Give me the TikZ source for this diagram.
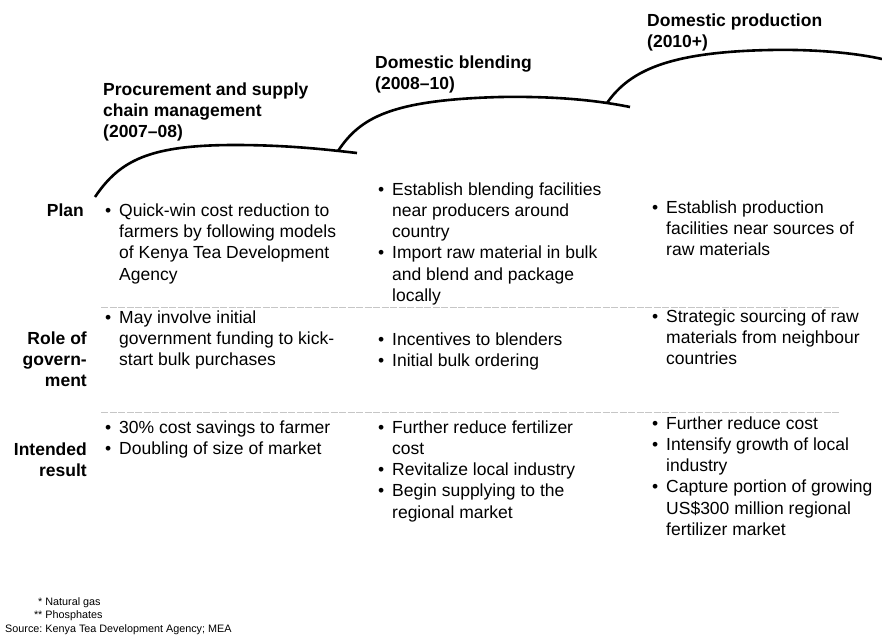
\documentclass[tikz,border=0pt]{standalone}
\usepackage{fontspec}
\setmainfont{Liberation Sans}
\newcommand{\bl}{\llap{\textbullet\hspace{8pt}}}

\begin{document}
\begin{tikzpicture}[
  txt/.style={anchor=base west, align=left, inner sep=0pt, font=\fontsize{17.5}{21.3}\selectfont},
  head/.style={txt, font=\bfseries\fontsize{17.5}{21}\selectfont},
  lab/.style={anchor=base east, align=right, inner sep=0pt, font=\bfseries\fontsize{17.5}{21}\selectfont},
  stage/.style={line width=2.6pt},
  rule/.style={gray!45, line width=1pt, dash pattern=on 7pt off 1.5pt}]
  \useasboundingbox (0pt, 0pt) rectangle (882pt, -637pt);
  % stage curves
  \draw[stage] (95pt, -197pt) .. controls (120pt, -160pt) and (150pt, -145pt) .. (235pt, -145pt)
    .. controls (290pt, -145pt) and (330pt, -150pt) .. (357pt, -153pt);
  \draw[stage] (338pt, -151pt) .. controls (360pt, -118pt) and (390pt, -100pt) .. (500pt, -97pt)
    .. controls (560pt, -96pt) and (600pt, -101pt) .. (630pt, -107pt);
  \draw[stage] (607pt, -103pt) .. controls (630pt, -70pt) and (670pt, -52pt) .. (770pt, -50pt)
    .. controls (820pt, -49pt) and (860pt, -54pt) .. (882pt, -59pt);
  % headings (anchored at the last line)
  \draw (103pt, -137pt) node[head](h0){Procurement and supply\\ chain management\\ (2007--08)};
  \draw (375pt, -89pt) node[head](h1){Domestic blending\\ (2008--10)};
  \draw (647pt, -47pt) node[head](h2){Domestic production\\ (2010+)};
  % row labels
  \draw (84pt, -216pt) node[lab](plan){Plan};
  \draw (87pt, -386pt) node[lab](role){Role of\\ govern-\\ ment};
  \draw (87pt, -476pt) node[lab](result){Intended\\ result};
  % separators
  \draw[rule] (101pt, -307pt) -- (840pt, -307pt);
  \draw[rule] (101pt, -412pt) -- (840pt, -412pt);
  % plan
  \draw (119pt, -280pt) node[txt](p0){\bl Quick-win cost reduction to\\ farmers by following models\\ of Kenya Tea Development\\ Agency};
  \draw (392pt, -301.5pt) node[txt](p1){\bl Establish blending facilities\\ near producers around\\ country\\ \bl Import raw material in bulk\\ and blend and package\\ locally};
  \draw (666pt, -255.6pt) node[txt](p2){\bl Establish production\\ facilities near sources of\\ raw materials};
  % role of government
  \draw (119pt, -365.6pt) node[txt](g0){\bl May involve initial\\ government funding to kick-\\ start bulk purchases};
  \draw (392pt, -366.3pt) node[txt](g1){\bl Incentives to blenders\\ \bl Initial bulk ordering};
  \draw (666pt, -364.6pt) node[txt](g2){\bl Strategic sourcing of raw\\ materials from neighbour\\ countries};
  % intended result
  \draw (119pt, -454.3pt) node[txt](r0){\bl 30\% cost savings to farmer\\ \bl Doubling of size of market};
  \draw (392pt, -518.2pt) node[txt](r1){\bl Further reduce fertilizer\\ cost\\ \bl Revitalize local industry\\ \bl Begin supplying to the\\ regional market};
  \draw (666pt, -535.5pt) node[txt](r2){\bl Further reduce cost\\ \bl Intensify growth of local\\ industry\\ \bl Capture portion of growing\\ US\$300 million regional\\ fertilizer market};
  % footnote
  \draw (5pt, -605pt) node[anchor=base west, inner sep=0pt, font=\fontsize{10.8}{13.8}\selectfont](note){%
    \begin{tabular}[t]{@{}r@{\ }l@{}}
      {*} & Natural gas\\
      {**} & Phosphates\\
      Source: & Kenya Tea Development Agency; MEA
    \end{tabular}};
\end{tikzpicture}
\end{document}
